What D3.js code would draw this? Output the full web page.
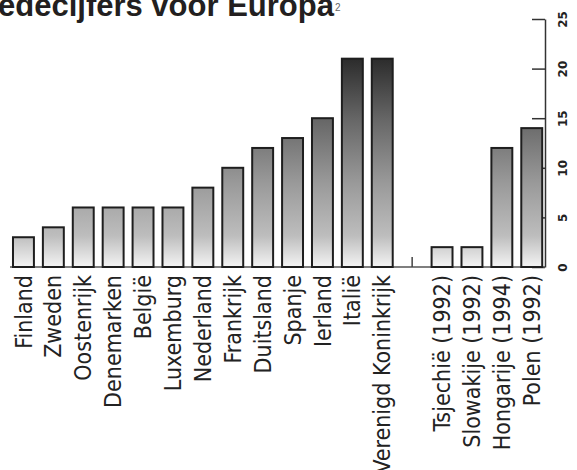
<!DOCTYPE html>
<html><head><meta charset="utf-8">
<script src="https://cdn.jsdelivr.net/npm/d3@7"></script>
<style>
html,body{margin:0;padding:0;background:#fff;overflow:hidden;}
svg{display:block;}
</style></head>
<body>
<svg id="chart" width="577" height="470"></svg>
<script>
const titleText = "edecijfers voor Europa";
const titleSup = "2";
const categories = ["Finland","Zweden","Oostenrijk","Denemarken","België","Luxemburg","Nederland","Frankrijk","Duitsland","Spanje","Ierland","Italië","Verenigd Koninkrijk","","Tsjechië (1992)","Slowakije (1992)","Hongarije (1994)","Polen (1992)"];
const values = [3,4,6,6,6,6,8,10,12,13,15,21,21,null,2,2,12,14];
const yTicks = [0,5,10,15,20,25];

const svg = d3.select("#chart");
const yAxisX = 545;
const y = d3.scaleLinear().domain([0,25]).range([267,19]);
const x = d3.scaleBand().domain(d3.range(categories.length)).range([8.5,546.7]).paddingInner(0.3).paddingOuter(0.15);

// gradient in user space
const defs = svg.append("defs");
const grad = defs.append("linearGradient").attr("id","barGrad")
  .attr("gradientUnits","userSpaceOnUse").attr("x1",0).attr("x2",0)
  .attr("y1",y(21)).attr("y2",y(0));
[[0,"#2c2c2c"],[0.3,"#686868"],[0.6,"#9a9a9a"],[0.85,"#bdbdbd"],[1,"#f4f4f4"]]
  .forEach(([o,c])=>grad.append("stop").attr("offset",o).attr("stop-color",c));

// title
const title = svg.append("text").attr("x",-2).attr("y",16)
  .style("font-family","'Liberation Sans',Arial,sans-serif").style("font-weight","bold")
  .style("font-size","31px").attr("fill","#231f20").text(titleText);
const tw = title.node().getComputedTextLength();
svg.append("text").attr("x",-2+tw+1).attr("y",11)
  .style("font-family","'Liberation Sans',Arial,sans-serif").style("font-size","10px")
  .attr("fill","#666").text(titleSup);

// y axis (right side, ticks inward)
const axis = d3.axisRight(y).tickValues(yTicks).tickSizeInner(-13).tickSizeOuter(0).tickPadding(0);
const gAxis = svg.append("g").attr("transform",`translate(${yAxisX},0)`).call(axis);
gAxis.select(".domain").attr("stroke","#333").attr("stroke-width",1.5);
gAxis.selectAll(".tick line").attr("stroke","#333").attr("stroke-width",1.5);
gAxis.selectAll(".tick text")
  .attr("x",null).attr("dy","0.35em")
  .attr("transform","translate(18,0) rotate(-90)")
  .attr("text-anchor","middle")
  .style("font-family","'DejaVu Sans',sans-serif").style("font-weight","bold")
  .style("font-size","12px").attr("fill","#222");

// baseline
svg.append("line").attr("x1",10).attr("x2",yAxisX).attr("y1",y(0)).attr("y2",y(0))
  .attr("stroke","#555").attr("stroke-width",1.5);

// gap marker
const gapIdx = values.findIndex(v=>v===null);
svg.append("line").attr("x1",x(gapIdx)+x.bandwidth()/2).attr("x2",x(gapIdx)+x.bandwidth()/2)
  .attr("y1",y(0)).attr("y2",y(0)-10).attr("stroke","#444").attr("stroke-width",1.5);

// bars
const data = values.map((v,i)=>({i,v,c:categories[i]})).filter(d=>d.v!==null);
svg.append("g").selectAll("rect").data(data).join("rect")
  .attr("x",d=>x(d.i)).attr("width",x.bandwidth())
  .attr("y",d=>y(d.v)).attr("height",d=>y(0)-y(d.v))
  .attr("fill","url(#barGrad)").attr("stroke","#1e1e1e").attr("stroke-width",2);

// category labels
svg.append("g").selectAll("text").data(categories.map((c,i)=>({c,i})).filter(d=>d.c!==""))
  .join("text")
  .attr("transform",d=>`translate(${x(d.i)+x.bandwidth()/2},275) rotate(-90)`)
  .attr("text-anchor","end").attr("dy","0.35em")
  .style("font-family","'DejaVu Sans Condensed','DejaVu Sans',sans-serif")
  .style("font-stretch","condensed")
  .style("font-size","23px").attr("fill","#222")
  .text(d=>d.c);
</script>
</body></html>
